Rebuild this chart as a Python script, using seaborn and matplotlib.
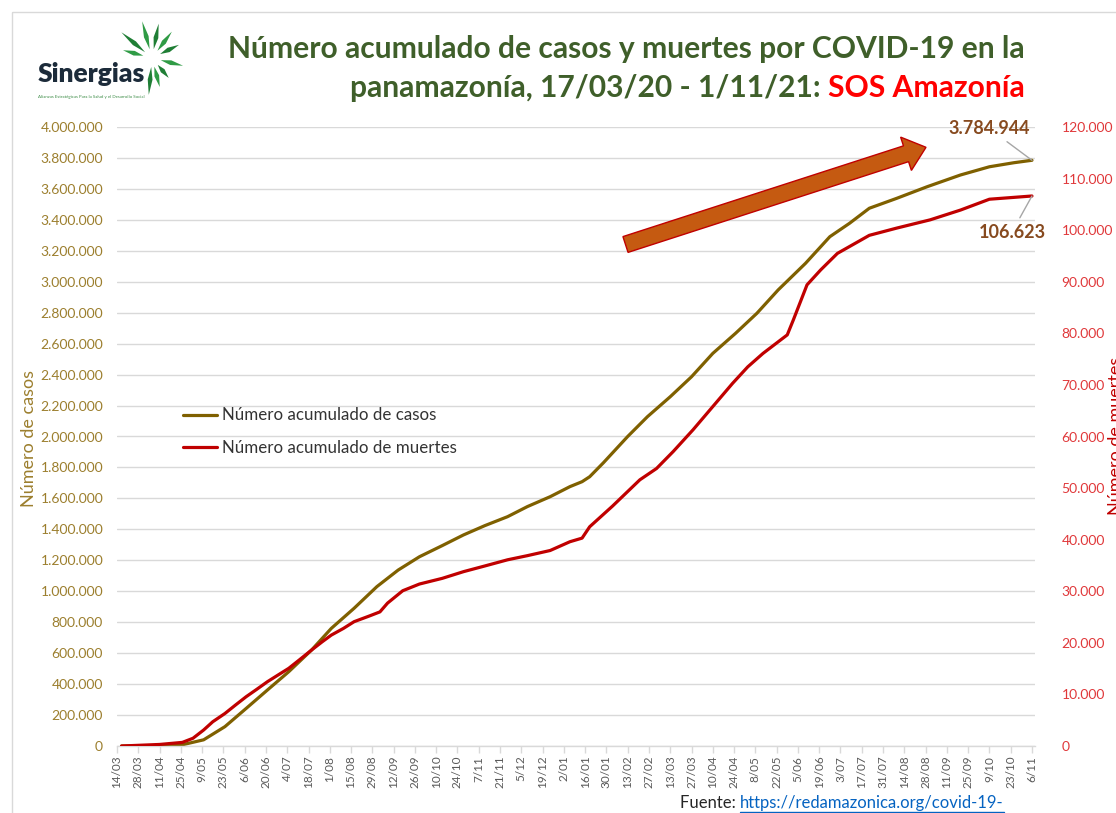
'''
Número acumulado de casos y muertes por COVID-19 en la panamazonía (Sinergias / SOS Amazonía).
'''
import numpy as np
import matplotlib
matplotlib.use("Agg")
import matplotlib.pyplot as plt
import seaborn as sns
from matplotlib.patches import FancyArrow, Polygon, Rectangle
from matplotlib.ticker import FuncFormatter

# etiquetas del eje x, una cada 14 días desde el 14/03/2020
tick_labels = ["14/03", "28/03", "11/04", "25/04", "9/05", "23/05", "6/06", "20/06",
               "4/07", "18/07", "1/08", "15/08", "29/08", "12/09", "26/09", "10/10",
               "24/10", "7/11", "21/11", "5/12", "19/12", "2/01", "16/01", "30/01",
               "13/02", "27/02", "13/03", "27/03", "10/04", "24/04", "8/05", "22/05",
               "5/06", "19/06", "3/07", "17/07", "31/07", "14/08", "28/08", "11/09",
               "25/09", "9/10", "23/10", "6/11"]

# días contados desde el 14/03/2020
cases_day = [3, 17, 32, 43, 57, 71, 85, 99, 113, 128,
             141, 156, 171, 185, 199, 214, 228, 242, 257, 270,
             285, 298, 306, 311, 320, 336, 349, 364, 378, 392,
             407, 421, 435, 453, 469, 482, 495, 513, 533, 555,
             574, 590, 602]
cases_val = [0, 1000, 4000, 8000, 40000, 125000, 243000, 362000, 480000, 620000,
             760000, 890000, 1030000, 1137000, 1223000, 1295000, 1364000, 1424000, 1482000, 1547000,
             1611000, 1676000, 1708000, 1740000, 1830000, 2000000, 2128000, 2257000, 2386000, 2537000,
             2667000, 2796000, 2947000, 3119000, 3291000, 3378000, 3475000, 3539000, 3614000, 3690000,
             3743000, 3769000, 3784944]

deaths_day = [3, 28, 43, 50, 57, 63, 71, 78, 85, 92,
              99, 106, 113, 120, 128, 135, 141, 149, 156, 166,
              173, 178, 188, 199, 214, 228, 242, 257, 270, 285,
              298, 306, 311, 326, 344, 355, 366, 379, 392, 405,
              415, 425, 441, 445, 454, 463, 474, 495, 513, 535,
              555, 574, 602]
deaths_val = [0, 300, 700, 1500, 3100, 4700, 6300, 7950, 9560, 11000,
              12470, 13770, 15060, 16700, 18600, 20200, 21500, 22800, 24100, 25200,
              26000, 27700, 30100, 31400, 32500, 33800, 34900, 36100, 36900, 37900,
              39600, 40300, 42500, 46500, 51600, 53800, 57100, 61300, 65800, 70300,
              73500, 76100, 79700, 82600, 89400, 92300, 95500, 99000, 100400, 102000,
              103900, 106000, 106623]

W, H = 1116, 813
col_cases = "#7F6000"
col_deaths = "#C00000"
col_left = "#9C7F2E"
col_right = "#E0383A"
col_grid = "#D9D9D9"
col_title = "#3F5F2A"
col_label = "#874A1F"


def miles(v, pos=None):
    return f"{int(round(v)):,}".replace(",", ".")


sns.set_theme(style="white")
plt.rcParams["font.family"] = ["Lato", "DejaVu Sans"]

fig = plt.figure(figsize=(W / 100, H / 100), dpi=100)
fig.patch.set_facecolor("white")

ax = fig.add_axes([117 / W, 67 / H, 918 / W, 619 / H])
ax2 = ax.twinx()

sns.lineplot(x=cases_day, y=cases_val, ax=ax, color=col_cases, lw=2.3,
             label="Número acumulado de casos")
sns.lineplot(x=deaths_day, y=deaths_val, ax=ax2, color=col_deaths, lw=2.3,
             label="Número acumulado de muertes")

ax.set_xlim(0, 604)
ax.set_ylim(0, 4_000_000)
ax2.set_ylim(0, 120_000)

ax.set_xticks(np.arange(len(tick_labels)) * 14)
ax.set_xticklabels(tick_labels, rotation=90, fontsize=8.5, color="#595959")
ax.tick_params(axis="x", length=5, width=1, color=col_grid, pad=2, bottom=True)

ax.set_yticks(np.arange(0, 4_000_001, 200_000))
ax.yaxis.set_major_formatter(FuncFormatter(miles))
ax.tick_params(axis="y", length=0, pad=10, labelsize=10, labelcolor=col_left)
ax.grid(axis="y", color=col_grid, lw=1)
ax.grid(axis="x", visible=False)
ax.set_axisbelow(True)

ax2.set_yticks(np.arange(0, 120_001, 10_000))
ax2.yaxis.set_major_formatter(FuncFormatter(miles))
ax2.tick_params(axis="y", length=0, pad=19, labelsize=10, labelcolor=col_right)
ax2.grid(False)

for a in (ax, ax2):
    a.set_xlabel("")
    a.set_ylabel("")
    for s in a.spines.values():
        s.set_visible(False)
ax.spines["bottom"].set_visible(True)
ax.spines["bottom"].set_color(col_grid)
ax.spines["bottom"].set_linewidth(1)

# leyenda combinada
h1, l1 = ax.get_legend_handles_labels()
h2, l2 = ax2.get_legend_handles_labels()
ax.get_legend().remove()
ax2.get_legend().remove()
ax2.legend(h1 + h2, l1 + l2, loc="center left",
           bbox_to_anchor=(183 / W, 1 - 431.5 / H), bbox_transform=fig.transFigure,
           frameon=False, fontsize=12.2, labelcolor="#333333", handlelength=2.0,
           handletextpad=0.3, labelspacing=0.95, borderpad=0, borderaxespad=0)

# etiquetas del último valor
ax.annotate(miles(cases_val[-1]), xy=(cases_day[-1], cases_val[-1]),
            xytext=(-43, 32), textcoords="offset pixels", ha="center", va="center",
            fontsize=13, fontweight="bold", color=col_label,
            arrowprops=dict(arrowstyle="-", color="#A6A6A6", lw=1, shrinkA=2, shrinkB=0))
ax2.annotate(miles(deaths_val[-1]), xy=(deaths_day[-1], deaths_val[-1]),
             xytext=(-20, -36), textcoords="offset pixels", ha="center", va="center",
             fontsize=13, fontweight="bold", color=col_label,
             arrowprops=dict(arrowstyle="-", color="#A6A6A6", lw=1, shrinkA=2, shrinkB=0))

# títulos de ejes (el de la derecha queda recortado en el borde, como en el original)
fig.text(29 / W, 1 - 438 / H, "Número de casos", rotation=90, ha="center", va="center",
         fontsize=13, color=col_left)
fig.text(1108 / W, 1 - 436 / H, "Número de muertes", rotation=90, ha="left", va="center",
         fontsize=13, color=col_deaths)

# título
fig.text(1025 / W, 1 - 58 / H, "Número acumulado de casos y muertes por COVID-19 en la",
         ha="right", va="baseline", fontsize=21.6, fontweight="bold", color=col_title)
red = fig.text(1025 / W, 1 - 97 / H, "SOS Amazonía", ha="right", va="baseline",
               fontsize=21.6, fontweight="bold", color="#FF0000")
ax2.annotate("panamazonía, 17/03/20 - 1/11/21: ", xy=(0, H - 97),
             xycoords=(red, "figure pixels"), ha="right", va="baseline",
             fontsize=21.6, fontweight="bold", color=col_title, annotation_clip=False)

# capa superior en pixeles de la imagen
ov = fig.add_axes([0, 0, 1, 1])
ov.set_xlim(0, W)
ov.set_ylim(H, 0)
ov.axis("off")
ov.patch.set_alpha(0)

ov.add_patch(Rectangle((12, 12), W + 20, H + 20, fill=False, ec=col_grid, lw=1))

ov.add_patch(FancyArrow(625.5, 244.5, 300.5, -97.2, width=16.6, head_width=35,
                        head_length=21, length_includes_head=True,
                        fc="#C55A11", ec="#C00000", lw=1))

# logo Sinergias
ov.text(38, 82, "Sinergias", fontsize=19, fontweight="heavy", color="#1C2B3A",
        ha="left", va="baseline")
ov.text(38, 98, "Alianzas Estratégicas Para la Salud y el Desarrollo Social",
        fontsize=3.2, color="#3C8C46", ha="left", va="baseline")
cx, cy = 152, 58
for ang, r_out, col in [(105, 38, "#2F9B45"), (79, 35, "#1F7E35"), (53, 33, "#2F9B45"),
                        (140, 40, "#1F7E35"), (165, 30, "#2F9B45"), (26, 30, "#1F7E35"),
                        (-14, 32, "#2F9B45"), (-50, 26, "#1F7E35"), (-75, 30, "#2F9B45"),
                        (-95, 37, "#1F7E35")]:
    t = np.radians(ang)
    u = np.array([np.cos(t), -np.sin(t)])
    n = np.array([np.sin(t), np.cos(t)])
    c = np.array([cx, cy])
    r_in = 9
    r_mid = r_in + 0.45 * (r_out - r_in)
    pts = [c + r_in * u, c + r_mid * u + 2.4 * n, c + r_out * u, c + r_mid * u - 2.4 * n]
    ov.add_patch(Polygon(pts, closed=True, fc=col, ec="none"))

# fuente
fuente = ov.text(680, 808, "Fuente: ", fontsize=12, color="#262626", ha="left", va="baseline")
link = ov.annotate("https://redamazonica.org/covid-19-", xy=(1, 808),
                   xycoords=(fuente, "data"), fontsize=12, color="#0563C1",
                   ha="left", va="baseline")
fig.canvas.draw()
bb = link.get_window_extent()
ov.plot([bb.x0, bb.x1], [811.5, 811.5], color="#0563C1", lw=1)

fig.savefig("out.png", dpi=100, facecolor="white")
